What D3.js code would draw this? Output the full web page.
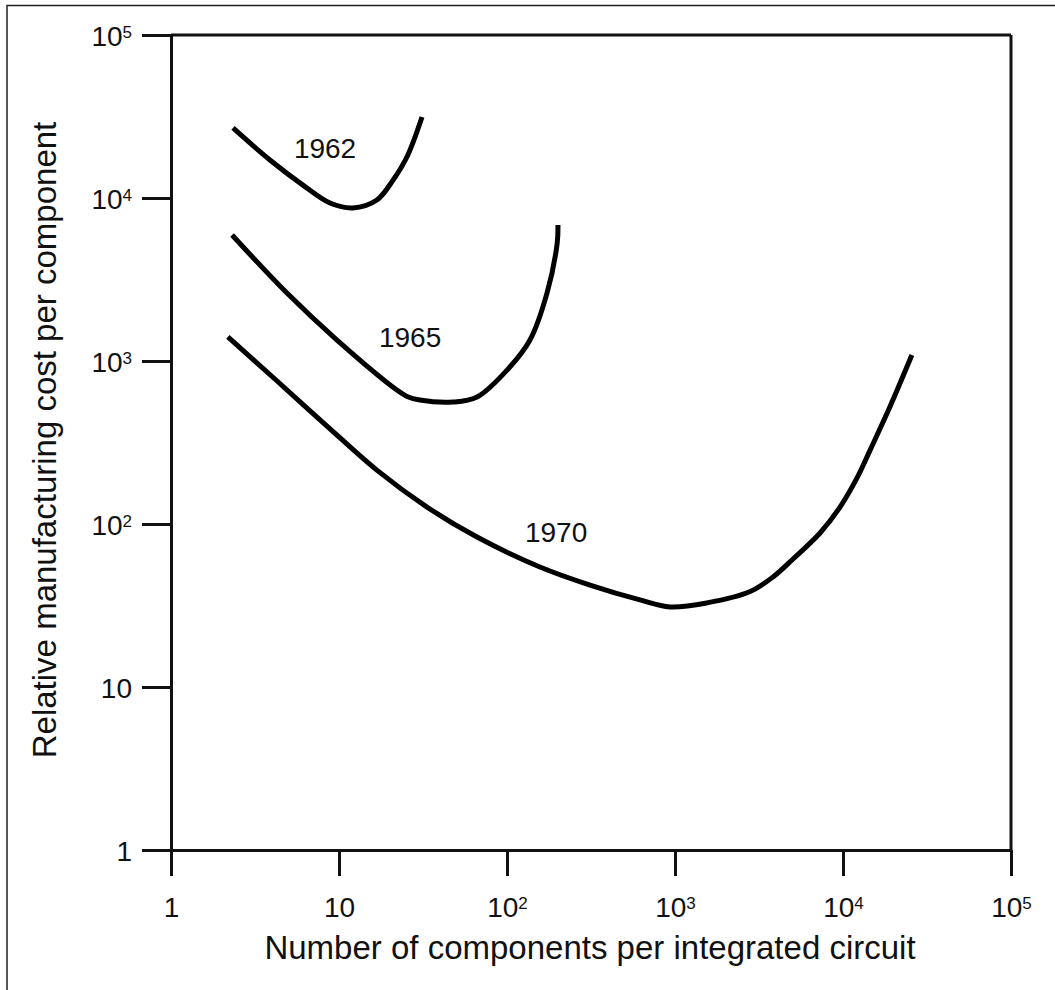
<!DOCTYPE html>
<html>
<head>
<meta charset="utf-8">
<script src="https://cdn.jsdelivr.net/npm/d3@7"></script>
<style>
  body { margin: 0; background: #fff; }
  text { font-family: "Liberation Sans", Arial, sans-serif; fill: #111; }
</style>
</head>
<body>
<script>
// tick values (log scale, both axes)
const xTicks = [1, 10, 100, 1000, 10000, 100000];
const yTicks = [1, 10, 100, 1000, 10000, 100000];

// curves: components per IC -> relative cost
const x1962 = [2.34, 3.88, 6.1, 8.84, 12.1, 16.8, 21.0, 25.4, 31.2];
const y1962 = [26900, 17100, 12000, 9310, 8690, 9720, 12900, 17900, 31400];

const x1965 = [2.31, 4.9, 9.73, 22.1, 25.4, 30.3, 47.7, 66.3, 104, 137, 173, 199, 201];
const y1965 = [5930, 2610, 1345, 664, 606, 576, 560, 601, 919, 1345, 2610, 5300, 6830];

const x1970 = [2.18, 4.28, 8.48, 16.8, 33.4, 66.3, 157, 312, 619, 934, 1550, 2800, 3900, 5040, 7300, 9600, 12100, 14500, 19000, 25700];
const y1970 = [1404, 754, 399, 214, 127, 83.2, 54.5, 42.2, 34.2, 31.0, 32.8, 38.5, 48, 61, 88.1, 127, 191, 284, 522, 1088];

// year labels: [year, x value, y value]
const yearLabels = [
  ["1962", 8.26, 17600],
  ["1965", 26.5, 1219],
  ["1970", 196, 77.5]
];

const width = 1055;
const height = 990;

const svg = d3.select("body")
  .append("svg")
  .attr("width", width)
  .attr("height", height);

// frame (top and left edges only, like the cropped scan)
svg.append("path")
  .attr("d", "M7,990 V5.5 H1055")
  .attr("fill", "none")
  .attr("stroke", "#222")
  .attr("stroke-width", 1.5);

const xScale = d3.scaleLog()
  .domain([1, 100000])
  .range([171, 1011]);

const yScale = d3.scaleLog()
  .domain([1, 100000])
  .range([850, 35]);

// label like 10 with a superscript power
function powLabel(sel, v) {
  const p = Math.round(Math.log10(v));
  sel.text(null);
  if (p === 0) { sel.text("1"); return; }
  if (p === 1) { sel.text("10"); return; }
  sel.append("tspan").text("10");
  sel.append("tspan").text(p).attr("font-size", "17px").attr("dy", "-8");
}

// axes
const bottomAxis = d3.axisBottom(xScale)
  .tickValues(xTicks)
  .tickSize(26)
  .tickSizeOuter(0)
  .tickPadding(14);

const leftAxis = d3.axisLeft(yScale)
  .tickValues(yTicks)
  .tickSize(29)
  .tickSizeOuter(0)
  .tickPadding(10);

const gx = svg.append("g")
  .attr("transform", "translate(0,850)")
  .call(bottomAxis);

const gy = svg.append("g")
  .attr("transform", "translate(171,0)")
  .call(leftAxis);

[gx, gy].forEach(g => {
  g.attr("font-size", 28).attr("font-family", null);
  g.select(".domain").attr("stroke", "#111").attr("stroke-width", 3);
  g.selectAll(".tick line").attr("stroke", "#111").attr("stroke-width", 3);
  g.selectAll(".tick text")
    .attr("font-size", "28px")
    .attr("fill", "#111")
    .each(function (d) { powLabel(d3.select(this), d); });
});
gx.selectAll(".tick text").attr("dy", "0.95em");
gy.selectAll(".tick text").attr("dy", "0.36em");

// top and right edges of plot box
svg.append("line")
  .attr("x1", xScale(1)).attr("x2", xScale(100000))
  .attr("y1", yScale(100000)).attr("y2", yScale(100000))
  .attr("stroke", "#111").attr("stroke-width", 3);
svg.append("line")
  .attr("x1", xScale(100000)).attr("x2", xScale(100000))
  .attr("y1", yScale(100000)).attr("y2", yScale(1))
  .attr("stroke", "#111").attr("stroke-width", 3);

// curves
const line = d3.line()
  .x(d => xScale(d[0]))
  .y(d => yScale(d[1]))
  .curve(d3.curveCatmullRom.alpha(0.5));

[[x1962, y1962], [x1965, y1965], [x1970, y1970]].forEach(s => {
  svg.append("path")
    .datum(d3.zip(s[0], s[1]))
    .attr("d", line)
    .attr("fill", "none")
    .attr("stroke", "#000")
    .attr("stroke-width", 5);
});

// year labels
svg.selectAll(".year")
  .data(yearLabels)
  .enter()
  .append("text")
  .attr("class", "year")
  .attr("x", d => xScale(d[1]))
  .attr("y", d => yScale(d[2]))
  .attr("text-anchor", "middle")
  .attr("font-size", "28px")
  .text(d => d[0]);

// axis titles
svg.append("text")
  .attr("x", 590)
  .attr("y", 959)
  .attr("text-anchor", "middle")
  .attr("font-size", "33px")
  .text("Number of components per integrated circuit");

svg.append("text")
  .attr("transform", "translate(56,440) rotate(-90)")
  .attr("text-anchor", "middle")
  .attr("font-size", "33px")
  .text("Relative manufacturing cost per component");
</script>
</body>
</html>
